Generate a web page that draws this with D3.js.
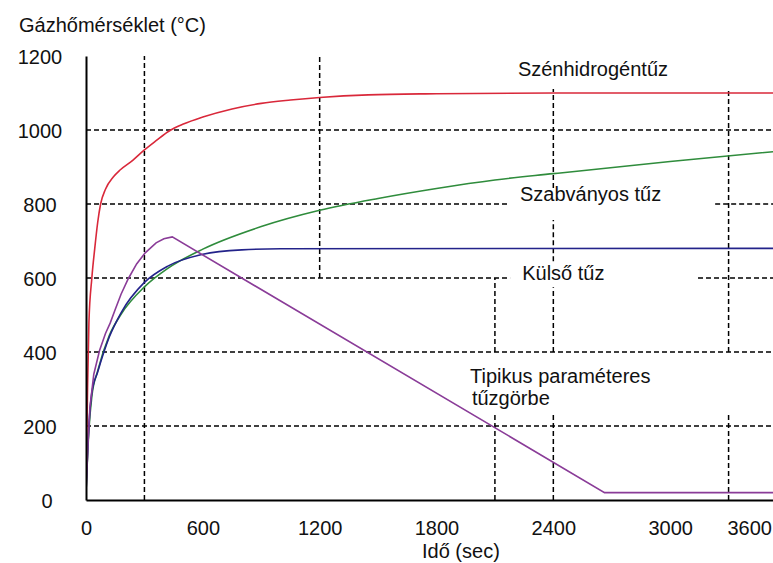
<!DOCTYPE html>
<html lang="hu">
<head>
<meta charset="UTF-8">
<title>Tűzgörbék</title>
<script src="https://d3js.org/d3.v7.min.js"></script>
<style>
  body { margin: 0; background: #fff; }
  text { font-family: "Liberation Sans", Arial, sans-serif; font-size: 20px; fill: #111; }
  .grid { stroke: #000; stroke-width: 1.5; stroke-dasharray: 5,3; fill: none; }
  .curve { fill: none; stroke-width: 1.6; }
</style>
</head>
<body>
<div id="chart"></div>
<script>
// tick values
const xTicks = [0, 600, 1200, 1800, 2400, 3000, 3600];
const yTicks = [0, 200, 400, 600, 800, 1000, 1200];

// curves: [time in s, temperature in °C]
const hydrocarbon = [[0, 20], [8, 300], [15, 480], [30, 600], [45, 680], [60, 750], [75, 800], [100, 840],
  [140, 873], [175, 892], [240, 918], [300, 946], [360, 971], [423, 996], [500, 1016], [600, 1035],
  [750, 1057], [900, 1072], [1050, 1081], [1200, 1088], [1450, 1095], [1800, 1098], [2400, 1100], [3600, 1100]];
const standard = [[0, 20], [15, 190], [30, 280], [60, 349], [120, 445], [180, 502], [300, 576], [420, 626],
  [600, 678], [900, 739], [1200, 783], [1500, 815], [1800, 842], [2100, 865], [2400, 882], [3000, 915], [3600, 945]];
const external = [[0, 20], [15, 200], [30, 290], [60, 346], [120, 441], [180, 506], [300, 588], [420, 632],
  [600, 664], [800, 676], [1000, 679], [3600, 680]];
const parametric = [[0, 20], [10, 150], [20, 250], [40, 340], [70, 405], [100, 450], [124, 478], [150, 515],
  [180, 556], [217, 598], [260, 638], [304, 668], [360, 695], [400, 706], [443, 711], [2663, 20], [3600, 20]];

const series = [
  { name: "hydrocarbon", data: hydrocarbon, color: "#d9283a", curve: d3.curveMonotoneX },
  { name: "standard", data: standard, color: "#2f8c3c", curve: d3.curveMonotoneX },
  { name: "external", data: external, color: "#23238a", curve: d3.curveMonotoneX },
  { name: "parametric", data: parametric, color: "#8a3c98", curve: d3.curveLinear }
];

// dashed grid pieces (gaps where the labels sit)
const hGrid = [
  { v: 200, spans: [[0, 3600]] },
  { v: 400, spans: [[0, 3600]] },
  { v: 600, spans: [[0, 2178], [3143, 3600]] },
  { v: 800, spans: [[0, 2167], [3231, 3600]] },
  { v: 1000, spans: [[0, 3600]] }
];
const vGrid = [
  { t: 300, spans: [[0, 1200]] },
  { t: 1200, spans: [[600, 1200]] },
  { t: 2100, spans: [[0, 238], [400, 600]] },
  { t: 2400, spans: [[0, 238], [400, 575], [645, 757], [843, 1111]] },
  { t: 3300, spans: [[0, 238], [400, 1111]] }
];

const labels = [
  { text: "Szénhidrogéntűz", t: 2218, v: 1146 },
  { text: "Szabványos tűz", t: 2229, v: 808 },
  { text: "Külső tűz", t: 2240, v: 595 },
  { text: "Tipikus paraméteres", t: 1972, v: 316 },
  { text: "tűzgörbe", t: 1982, v: 257 }
];

const W = 773, H = 563;
const svg = d3.select("#chart").append("svg")
  .attr("width", W).attr("height", H);

const x = d3.scaleLinear().domain([0, 3600]).range([86, 787]);
const y = d3.scaleLinear().domain([0, 1200]).range([500, 56]);

svg.append("defs").append("clipPath").attr("id", "plot")
  .append("rect").attr("x", 86).attr("y", 40).attr("width", W - 86).attr("height", 462);

const plot = svg.append("g").attr("clip-path", "url(#plot)");

// grid
hGrid.forEach(g => g.spans.forEach(s => {
  plot.append("line").attr("class", "grid")
    .attr("x1", x(s[0])).attr("x2", x(s[1]))
    .attr("y1", y(g.v)).attr("y2", y(g.v));
}));
vGrid.forEach(g => g.spans.forEach(s => {
  plot.append("line").attr("class", "grid")
    .attr("x1", x(g.t)).attr("x2", x(g.t))
    .attr("y1", y(s[0])).attr("y2", y(s[1]));
}));

// curves
series.forEach(s => {
  const line = d3.line().x(d => x(d[0])).y(d => y(d[1])).curve(s.curve);
  plot.append("path").datum(s.data)
    .attr("class", "curve")
    .attr("stroke", s.color)
    .attr("d", line);
});

// axes
const xAxis = svg.append("g")
  .attr("transform", `translate(0,${y(0)})`)
  .call(d3.axisBottom(x).tickValues(xTicks).tickSize(0).tickPadding(21).tickFormat(d3.format("d")));
xAxis.select(".domain").attr("stroke", "#000").attr("stroke-width", 2);
xAxis.selectAll("text").style("font-size", "20px").attr("fill", "#111").style("font-family", "Liberation Sans, Arial, sans-serif");
// the last label sits squeezed against the right edge
xAxis.selectAll(".tick").filter(d => d === 3600).select("text")
  .attr("text-anchor", "start").attr("x", -60);

const yAxis = svg.append("g")
  .attr("transform", `translate(${x(0)},0)`)
  .call(d3.axisLeft(y).tickValues(yTicks).tickSize(0).tickSizeOuter(0).tickFormat(d3.format("d")));
yAxis.select(".domain").attr("stroke", "#000").attr("stroke-width", 2);
yAxis.selectAll("text")
  .attr("text-anchor", "middle").attr("x", d => d === 0 ? -39 : -46).attr("dy", "0.35em")
  .style("font-size", "20px").attr("fill", "#111").style("font-family", "Liberation Sans, Arial, sans-serif");

// axis titles
svg.append("text").attr("x", 19).attr("y", 32).text("Gázhőmérséklet (°C)");
svg.append("text").attr("x", 422).attr("y", 558).text("Idő (sec)");

// curve labels
svg.selectAll(".lbl").data(labels).enter().append("text")
  .attr("class", "lbl")
  .attr("x", d => x(d.t)).attr("y", d => y(d.v))
  .text(d => d.text);
</script>
</body>
</html>
